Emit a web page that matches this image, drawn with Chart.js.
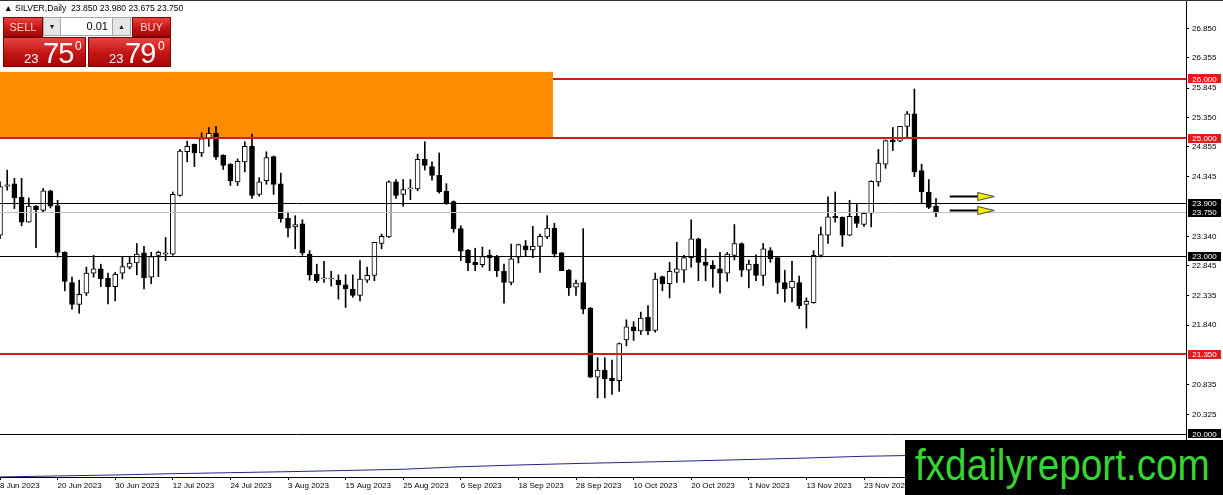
<!DOCTYPE html>
<html>
<head>
<meta charset="utf-8">
<title>SILVER, Daily</title>
<script src="https://cdn.jsdelivr.net/npm/chart.js@4.4.1/dist/chart.umd.min.js"></script>
<style>
  body { margin: 0; background: #fff; }
  #wrap { position: relative; width: 1223px; height: 495px; overflow: hidden; font-family: "Liberation Sans", Arial, sans-serif; }
  #chart { position: absolute; left: 0; top: 0; }
  #title { position: absolute; left: 4px; top: 3px; font-size: 8.6px; line-height: 10px; color: #000; white-space: pre; }
  .red { position: absolute; box-sizing: border-box; border: 1px solid #7d0000; background: linear-gradient(#e64442, #c41414 55%, #a60808); color: #fff; }
  .btn { text-align: center; font-size: 11px; line-height: 18px; color: #ffd2d2; }
  .gray { position: absolute; box-sizing: border-box; border: 1px solid #a8a8a8; background: #e6e6e6; font-size: 7px; line-height: 17px; text-align: center; color: #222; }
  #lots { position: absolute; left: 60px; top: 17px; width: 53px; height: 19px; box-sizing: border-box; border: 1px solid #a8a8a8; background: #fff; font-size: 11px; line-height: 17px; text-align: right; padding-right: 4px; color: #000; }
  .small { position: absolute; top: 14px; font-size: 13px; line-height: 13px; }
  .big { position: absolute; top: 0; font-size: 29px; line-height: 30px; letter-spacing: -1px; }
  .sup { position: absolute; top: 2px; font-size: 12px; line-height: 12px; }
  #brand { position: absolute; left: 905px; top: 440px; width: 318px; height: 55px; background: #000; }
  #brand span { position: absolute; left: 10px; top: 1px; font-size: 44px; line-height: 48px; color: #39d434; transform: scaleX(0.88); transform-origin: left top; white-space: nowrap; }
</style>
</head>
<body>
<div id="wrap">
  <canvas id="chart" width="1223" height="495"></canvas>
  <div id="title"></div>
  <div class="red btn" style="left:3px;top:17px;width:40px;height:20px;">SELL</div>
  <div class="gray" style="left:43px;top:17px;width:18px;height:19px;">&#9660;</div>
  <div id="lots">0.01</div>
  <div class="gray" style="left:112px;top:17px;width:19px;height:19px;">&#9650;</div>
  <div class="red btn" style="left:132px;top:17px;width:39px;height:20px;">BUY</div>
  <div class="red" style="left:3px;top:37px;width:83px;height:30px;">
    <span class="small" style="left:20px;" id="bidSmall"></span>
    <span class="big" style="left:39px;" id="bidBig"></span>
    <span class="sup" style="left:71px;" id="bidSup"></span>
  </div>
  <div class="red" style="left:88px;top:37px;width:83px;height:30px;">
    <span class="small" style="left:20px;" id="askSmall"></span>
    <span class="big" style="left:36px;" id="askBig"></span>
    <span class="sup" style="left:69px;" id="askSup"></span>
  </div>
  <div id="brand"><span>fxdailyreport.com</span></div>
</div>
<script>
// daily bars, 8 Jun 2023 .. 7 Dec 2023 (one entry per bar)
const opens = [
  23.36, 24.19, 24.23, 24.00, 23.58, 23.85, 23.78, 24.11, 23.86, 23.07,
  22.56, 22.19, 22.38, 22.72, 22.79, 22.63, 22.49, 22.72, 22.82, 22.89,
  23.06, 22.65, 23.02, 23.04, 23.04, 24.03, 24.77, 24.90, 24.75, 24.99,
  25.08, 24.71, 24.56, 24.26, 24.60, 24.86, 24.05, 24.28, 24.69, 24.23,
  23.65, 23.50, 23.55, 23.04, 22.70, 22.62, 22.62, 22.60, 22.52, 22.45,
  22.34, 22.60, 22.68, 23.22, 23.33, 24.26, 24.05, 24.14, 24.14, 24.64,
  24.52, 24.37, 24.10, 23.93, 23.47, 23.11, 22.90, 22.86, 23.02, 23.00,
  22.75, 22.56, 22.99, 23.18, 23.11, 23.17, 23.33, 23.48, 23.06, 22.77,
  22.48, 22.56, 22.13, 20.96, 21.08, 20.94, 20.90, 21.59, 21.81, 21.74,
  21.97, 21.75, 22.66, 22.54, 22.73, 22.77, 22.98, 23.30, 22.90, 22.85,
  22.79, 22.72, 23.02, 23.22, 22.77, 22.87, 22.68, 23.10, 22.98, 22.56,
  22.47, 22.56, 22.19, 22.22, 23.02, 23.36, 23.68, 23.66, 23.36, 23.68,
  23.54, 23.73, 24.26, 24.56, 24.97, 24.95, 25.20, 25.41, 24.45, 24.09,
  23.85
];
const highs = [
  24.26, 24.46, 24.32, 24.32, 23.99, 23.86, 24.15, 24.12, 23.95, 23.08,
  22.65, 22.60, 22.82, 23.02, 22.87, 22.72, 22.73, 23.00, 23.00, 23.22,
  23.17, 23.07, 23.09, 23.32, 24.09, 24.81, 24.95, 24.90, 25.09, 25.18,
  25.20, 24.72, 24.57, 24.65, 24.94, 25.07, 24.33, 24.77, 24.70, 24.41,
  23.75, 23.69, 23.62, 23.10, 22.87, 22.92, 22.75, 22.69, 22.69, 22.69,
  22.93, 22.82, 23.24, 23.38, 24.28, 24.30, 24.30, 24.30, 24.73, 24.94,
  24.60, 24.75, 24.23, 23.94, 23.52, 23.12, 23.14, 23.16, 23.11, 23.02,
  22.87, 23.21, 23.21, 23.27, 23.51, 23.38, 23.69, 23.56, 23.07, 22.78,
  22.60, 23.47, 22.14, 21.29, 21.29, 21.25, 21.54, 21.93, 21.90, 22.06,
  22.17, 22.72, 22.67, 22.90, 23.24, 23.02, 23.62, 23.31, 23.13, 22.93,
  23.07, 23.07, 23.54, 23.23, 22.94, 23.03, 23.22, 23.15, 22.99, 22.77,
  22.92, 22.67, 22.30, 23.10, 23.50, 24.01, 24.09, 23.67, 23.95, 23.88,
  23.75, 24.28, 24.81, 24.97, 25.18, 25.20, 25.45, 25.83, 24.56, 24.30,
  23.98
];
const lows = [
  23.30, 24.12, 23.81, 23.52, 23.58, 23.15, 23.75, 23.82, 22.99, 22.42,
  22.11, 22.04, 22.34, 22.65, 22.49, 22.20, 22.25, 22.62, 22.79, 22.69,
  22.45, 22.54, 22.66, 22.93, 23.02, 24.02, 24.60, 24.52, 24.69, 24.86,
  24.64, 24.47, 24.20, 24.20, 24.43, 23.98, 24.02, 24.22, 24.05, 23.58,
  23.33, 23.13, 23.02, 22.60, 22.56, 22.56, 22.50, 22.28, 22.14, 22.31,
  22.25, 22.56, 22.59, 23.13, 23.32, 23.98, 23.85, 23.96, 24.11, 24.46,
  24.29, 24.07, 23.88, 23.41, 22.93, 22.76, 22.76, 22.82, 22.76, 22.66,
  22.21, 22.52, 22.89, 23.00, 22.98, 22.73, 23.30, 22.99, 22.76, 22.34,
  22.34, 22.03, 20.95, 20.61, 20.61, 20.67, 20.72, 21.49, 21.58, 21.68,
  21.68, 21.72, 22.42, 22.30, 22.56, 22.56, 22.82, 22.59, 22.59, 22.48,
  22.38, 22.58, 22.94, 22.66, 22.47, 22.59, 22.51, 22.90, 22.37, 22.23,
  22.23, 22.12, 21.79, 22.21, 22.99, 23.22, 23.58, 23.17, 23.35, 23.49,
  23.51, 23.50, 24.19, 24.49, 24.79, 24.94, 25.01, 24.35, 23.90, 23.81,
  23.675
];
const closes = [
  24.18, 24.21, 23.99, 23.58, 23.85, 23.79, 24.11, 23.85, 23.07, 22.58,
  22.19, 22.36, 22.72, 22.79, 22.62, 22.49, 22.70, 22.83, 22.89, 23.04,
  22.64, 23.00, 23.07, 23.06, 24.05, 24.78, 24.86, 24.75, 24.99, 25.08,
  24.68, 24.54, 24.28, 24.61, 24.86, 24.03, 24.26, 24.67, 24.22, 23.64,
  23.48, 23.54, 23.06, 22.69, 22.59, 22.64, 22.63, 22.52, 22.45, 22.34,
  22.62, 22.68, 23.24, 23.34, 24.26, 24.03, 24.13, 24.16, 24.64, 24.54,
  24.37, 24.09, 23.90, 23.47, 23.09, 22.89, 22.86, 23.00, 22.98, 22.76,
  22.56, 22.96, 23.20, 23.11, 23.17, 23.34, 23.48, 23.04, 22.76, 22.47,
  22.55, 22.11, 20.96, 21.08, 20.93, 20.90, 21.53, 21.81, 21.74, 21.96,
  21.74, 22.62, 22.54, 22.75, 22.79, 22.98, 23.30, 22.90, 22.85, 22.79,
  22.72, 23.04, 23.22, 22.77, 22.87, 22.68, 23.13, 22.96, 22.56, 22.45,
  22.58, 22.17, 22.24, 23.02, 23.37, 23.67, 23.65, 23.36, 23.68, 23.56,
  23.73, 24.27, 24.58, 24.96, 24.94, 25.20, 25.41, 24.43, 24.09, 23.83,
  23.75
];

// slow moving average shown at the bottom, read at a few bars
const maIdx = [0, 8, 16, 24, 32, 40, 48, 56, 64, 72, 80, 88, 96, 104, 112, 120, 125, 130];
const maVals = [19.274, 19.291, 19.307, 19.329, 19.346, 19.363, 19.383, 19.404, 19.446,
  19.476, 19.501, 19.522, 19.544, 19.569, 19.594, 19.623, 19.634, 19.645];

// date labels every 8 bars
const tickIdx = [0, 8, 16, 24, 32, 40, 48, 56, 64, 72, 80, 88, 96, 104, 112, 120];
const tickLabels = ["8 Jun 2023", "20 Jun 2023", "30 Jun 2023", "12 Jul 2023", "24 Jul 2023",
  "3 Aug 2023", "15 Aug 2023", "25 Aug 2023", "6 Sep 2023", "18 Sep 2023", "28 Sep 2023",
  "10 Oct 2023", "20 Oct 2023", "1 Nov 2023", "13 Nov 2023", "23 Nov 2023"];
const priceTicks = [26.850, 26.355, 25.845, 25.350, 24.855, 24.345, 23.340, 22.845,
  22.335, 21.840, 20.835, 20.325];

// drawn objects
const redLevels = [26.0, 25.0, 21.35];
const blackLevels = [23.9, 23.0, 20.0];
const bidLevel = 23.75;
const askPrice = 23.79;
const zoneTop = 26.12;
const zoneBottom = 25.0;
const zoneEndBar = 76.8;
const arrowLevels = [24.02, 23.79];

const last = closes.length - 1;
document.querySelector("#title").textContent =
  "\u25B2 SILVER,Daily  " + [opens[last], highs[last], lows[last], closes[last]]
    .map((v) => v.toFixed(3)).join(" ");

function fillQuote(prefix, price) {
  const s = price.toFixed(3);
  document.querySelector("#" + prefix + "Small").textContent = s.substr(0, 2);
  document.querySelector("#" + prefix + "Big").textContent = s.substr(3, 2);
  document.querySelector("#" + prefix + "Sup").textContent = s.substr(5, 1);
}
fillQuote("bid", bidLevel);
fillQuote("ask", askPrice);

const wickData = closes.map((c, i) => ({ x: i, y: [lows[i], highs[i]] }));
const bodyData = closes.map((c, i) => ({ x: i, y: [opens[i], c] }));
const maData = maIdx.map((v, i) => ({ x: v, y: maVals[i] }));

const overlay = {
  id: "overlay",
  beforeDatasetsDraw(chart) {
    const { ctx, chartArea: a, scales: { x, y } } = chart;
    const top = y.getPixelForValue(zoneTop);
    const bottom = y.getPixelForValue(zoneBottom) - 1;
    ctx.save();
    ctx.fillStyle = "#ff8c00";
    ctx.fillRect(a.left, top, x.getPixelForValue(zoneEndBar) - a.left, bottom - top);
    ctx.restore();
  },
  afterDatasetsDraw(chart) {
    const { ctx, chartArea: a, scales: { x, y } } = chart;
    const zoneRight = x.getPixelForValue(zoneEndBar);
    ctx.save();
    ctx.beginPath();
    ctx.rect(a.left, a.top, a.right - a.left, a.bottom - a.top);
    ctx.clip();

    ctx.strokeStyle = "#c0c0c0";
    ctx.lineWidth = 1;
    let py = Math.round(y.getPixelForValue(bidLevel)) + 0.5;
    ctx.beginPath();
    ctx.moveTo(a.left, py);
    ctx.lineTo(a.right, py);
    ctx.stroke();

    ctx.strokeStyle = "#000";
    for (const v of blackLevels) {
      py = Math.round(y.getPixelForValue(v)) + 0.5;
      ctx.beginPath();
      ctx.moveTo(a.left, py);
      ctx.lineTo(a.right, py);
      ctx.stroke();
    }

    ctx.strokeStyle = "#d41c1c";
    ctx.lineWidth = 2;
    for (const v of redLevels) {
      py = Math.round(y.getPixelForValue(v));
      const start = v > zoneBottom && v < zoneTop ? zoneRight : a.left;
      ctx.beginPath();
      ctx.moveTo(start, py);
      ctx.lineTo(a.right, py);
      ctx.stroke();
    }

    // arrows right of the last bar
    for (const v of arrowLevels) {
      py = Math.round(y.getPixelForValue(v)) + 0.5;
      const x0 = x.getPixelForValue(last + 1.9);
      const xb = x.getPixelForValue(last + 5.8);
      const xt = x.getPixelForValue(last + 8.1);
      ctx.strokeStyle = "#000";
      ctx.lineWidth = 2;
      ctx.beginPath();
      ctx.moveTo(x0, py);
      ctx.lineTo(xb, py);
      ctx.stroke();
      ctx.fillStyle = "#f2f000";
      ctx.strokeStyle = "#444";
      ctx.lineWidth = 1;
      ctx.beginPath();
      ctx.moveTo(xb, py - 4);
      ctx.lineTo(xt, py);
      ctx.lineTo(xb, py + 4);
      ctx.closePath();
      ctx.fill();
      ctx.stroke();
    }
    ctx.restore();
  },
  afterDraw(chart) {
    const { ctx, chartArea: a, scales: { y } } = chart;
    ctx.save();
    ctx.fillStyle = "#333";
    ctx.fillRect(0, 0, chart.width, 1);
    const tags = [];
    redLevels.forEach((v) => tags.push([v, "#e41b1b"]));
    blackLevels.forEach((v) => tags.push([v, "#000"]));
    tags.push([bidLevel, "#000"]);
    ctx.font = "8px 'Liberation Sans'";
    ctx.textAlign = "center";
    ctx.textBaseline = "middle";
    for (const [v, color] of tags) {
      const py = y.getPixelForValue(v);
      ctx.fillStyle = color;
      ctx.fillRect(a.right + 2, Math.round(py - 4.5), 33, 9);
      ctx.fillStyle = "#fff";
      ctx.fillText(v.toFixed(3), a.right + 18.5, py + 0.5);
    }
    ctx.restore();
  },
};

Chart.defaults.font.family = "'Liberation Sans', Arial, sans-serif";
Chart.defaults.font.size = 8;
Chart.defaults.color = "#000";

new Chart(document.querySelector("#chart"), {
  type: "bar",
  data: {
    datasets: [
      {
        type: "line",
        data: maData,
        borderColor: "#24248a",
        borderWidth: 1,
        pointRadius: 0,
        order: 3,
      },
      {
        data: wickData,
        backgroundColor: "#000",
        barThickness: 1,
        grouped: false,
        order: 2,
      },
      {
        data: bodyData,
        backgroundColor: (c) => (closes[c.dataIndex] >= opens[c.dataIndex] ? "#fff" : "#000"),
        borderColor: "#000",
        borderWidth: 1,
        borderSkipped: false,
        barThickness: 5,
        minBarLength: 1,
        grouped: false,
        order: 1,
      },
    ],
  },
  options: {
    responsive: false,
    devicePixelRatio: 1,
    animation: false,
    events: [],
    layout: { padding: { top: 1, left: 0, right: 0, bottom: 0 } },
    plugins: { legend: { display: false }, tooltip: { enabled: false } },
    scales: {
      x: {
        type: "linear",
        position: "bottom",
        offset: false,
        min: 0,
        max: 1186 / 7.2,
        afterBuildTicks: (s) => {
          s.ticks = tickIdx.map((v) => ({ value: v }));
        },
        afterFit: (s) => {
          s.height = 18;
          s.paddingLeft = 0;
          s.paddingRight = 0;
        },
        ticks: {
          callback: (v, i) => tickLabels[i],
          align: "start",
          autoSkip: false,
          maxRotation: 0,
          padding: 1,
        },
        grid: { offset: false, drawOnChartArea: false, tickLength: 3, color: "#000" },
        border: { color: "#000" },
      },
      y: {
        type: "linear",
        position: "right",
        min: 19.273,
        max: 27.318,
        afterBuildTicks: (s) => {
          s.ticks = priceTicks.map((v) => ({ value: v }));
        },
        afterFit: (s) => {
          s.width = 37;
          s.paddingTop = 0;
          s.paddingBottom = 0;
        },
        ticks: { callback: (v) => v.toFixed(3), padding: 3, autoSkip: false },
        grid: { drawOnChartArea: false, tickLength: 3, color: "#000" },
        border: { color: "#000" },
      },
    },
  },
  plugins: [overlay],
});
</script>
</body>
</html>
